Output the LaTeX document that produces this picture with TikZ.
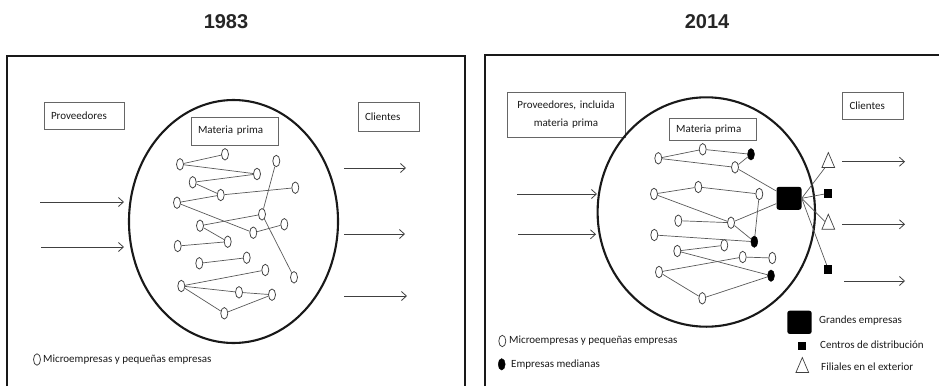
\documentclass[tikz,border=0pt]{standalone}
\usepackage{fontspec}
\setmainfont{Carlito}
\newfontfamily\titlefont{Liberation Sans}
\usetikzlibrary{shapes.geometric,arrows.meta}
\tikzset{
  frame/.style={line width=2.6pt, black!90},
  world/.style={line width=2.1pt, black!90},
  lblbox/.style={draw=black!60, line width=0.8pt, inner xsep=7pt, inner ysep=0pt, align=left, font=\fontsize{11}{13}\selectfont, text=black!90},
  sme/.style={ellipse, draw=black!75, fill=white, line width=0.75pt, minimum width=7pt, minimum height=11.5pt, inner sep=0pt},
  med/.style={ellipse, fill=black, draw=black, minimum width=7pt, minimum height=11.5pt, inner sep=0pt},
  link/.style={draw=black!65, line width=0.7pt},
  flow/.style={draw=black!75, line width=0.8pt, -{Straight Barb[length=5pt,width=9pt,line width=0.8pt]}},
  legtxt/.style={anchor=west, inner sep=0pt, font=\fontsize{11}{13}\selectfont, text=black!90},
  yeartitle/.style={font=\titlefont\bfseries\fontsize{20}{24}\selectfont, text=black!85},
  bigsq/.style={rectangle, fill=black, rounded corners=2.5pt, minimum width=25pt, minimum height=23pt, inner sep=0pt},
  smallsq/.style={rectangle, fill=black, minimum width=8pt, minimum height=8.5pt, inner sep=0pt},
  tri/.style={isosceles triangle, shape border rotate=90, isosceles triangle apex angle=46, draw=black!75, fill=white, line width=0.7pt, minimum height=15pt, inner sep=0pt},
}
\begin{document}
\begin{tikzpicture}[x=1pt,y=-1pt]
\useasboundingbox (0,0) rectangle (939,386);
% ---------------- 1983 ----------------
\node[yeartitle] (t1) at (226,22) {1983};
\draw[frame] (7,386) -- (7,56) -- (465,56) -- (465,386);
\node[lblbox, text width=66pt, minimum height=27pt] (prov1) at (84,115.5) {Proveedores};
\draw[world] (233.5,221.5) ellipse [x radius=104.5, y radius=121.5];
\node[lblbox, text width=73pt, minimum height=28pt] (mp1) at (234.5,131) {Materia prima};
\node[lblbox, text width=47pt, minimum height=29pt] (cli1) at (388.5,116.5) {Clientes};
% flows
\coordinate (ia1) at (40,202); \coordinate (ib1) at (124,202);
\coordinate (ia2) at (41,247); \coordinate (ib2) at (124,247);
\coordinate (oa1) at (344,168); \coordinate (ob1) at (406,168);
\coordinate (oa2) at (344,234); \coordinate (ob2) at (405,234);
\coordinate (oa3) at (344,296); \coordinate (ob3) at (407,296);
\draw[flow] (ia1) -- (ib1);
\draw[flow] (ia2) -- (ib2);
\draw[flow] (oa1) -- (ob1);
\draw[flow] (oa2) -- (ob2);
\draw[flow] (oa3) -- (ob3);
% network nodes
\node[sme] (n1) at (180,164.3) {};
\node[sme] (n2) at (225,154.3) {};
\node[sme] (n3) at (257,174) {};
\node[sme] (n4) at (276.3,161) {};
\node[sme] (n5) at (192.7,182.3) {};
\node[sme] (n6) at (220.7,195) {};
\node[sme] (n7) at (295.3,187.7) {};
\node[sme] (n8) at (177,202.7) {};
\node[sme] (n9) at (262,214.3) {};
\node[sme] (n10) at (200,225.7) {};
\node[sme] (n11) at (284.3,224.3) {};
\node[sme] (n12) at (253.3,232.7) {};
\node[sme] (n13) at (227.7,241.7) {};
\node[sme] (n14) at (177.7,246) {};
\node[sme] (n15) at (199.3,263.3) {};
\node[sme] (n16) at (246.7,257.7) {};
\node[sme] (n17) at (265.3,270) {};
\node[sme] (n18) at (294,277.3) {};
\node[sme] (n19) at (181.3,286) {};
\node[sme] (n20) at (239,292.3) {};
\node[sme] (n21) at (272,294.7) {};
\node[sme] (n22) at (224.3,313.3) {};
\draw[link] (n1) -- (n2);
\draw[link] (n1) -- (n3);
\draw[link] (n5) -- (n3);
\draw[link] (n5) -- (n6);
\draw[link] (n8) -- (n6);
\draw[link] (n6) -- (n7);
\draw[link] (n8) -- (n12);
\draw[link] (n4) -- (n9);
\draw[link] (n10) -- (n9);
\draw[link] (n10) -- (n13);
\draw[link] (n9) -- (n18);
\draw[link] (n12) -- (n11);
\draw[link] (n14) -- (n13);
\draw[link] (n15) -- (n16);
\draw[link] (n19) -- (n17);
\draw[link] (n19) -- (n20);
\draw[link] (n19) -- (n22);
\draw[link] (n20) -- (n21);
\draw[link] (n22) -- (n21);
% legend
\node[sme] (lg1) at (37,359.5) {};
\node[legtxt] (lg1t) at (43,360) {Microempresas y pequeñas empresas};
% ---------------- 2014 ----------------
\node[yeartitle] (t2) at (707,22) {2014};
\draw[frame] (485,386) -- (485,55) -- (945,55);
\node[lblbox, align=center, text width=104pt, minimum height=45pt, font=\fontsize{11}{18}\selectfont] (prov2) at (566,115) {Proveedores, incluida\\materia prima};
\draw[world] (706.3,212) ellipse [x radius=108.7, y radius=114.7];
\node[lblbox, text width=73pt, minimum height=22pt] (mp2) at (712.7,129.2) {Materia prima};
\node[lblbox, text width=47pt, minimum height=26.6pt] (cli2) at (873,106) {Clientes};
% flows
\coordinate (ja1) at (517,194); \coordinate (jb1) at (597,194);
\coordinate (ja2) at (518,234.3); \coordinate (jb2) at (596,234.3);
\coordinate (pa1) at (842,161.7); \coordinate (pb1) at (905,161.7);
\coordinate (pa2) at (842,224.3); \coordinate (pb2) at (905,224.3);
\coordinate (pa3) at (844,281); \coordinate (pb3) at (905,281);
\draw[flow] (ja1) -- (jb1);
\draw[flow] (ja2) -- (jb2);
\draw[flow] (pa1) -- (pb1);
\draw[flow] (pa2) -- (pb2);
\draw[flow] (pa3) -- (pb3);
% network
\node[sme] (m1) at (658.3,158.3) {};
\node[sme] (m2) at (702.7,149.3) {};
\node[med] (b1) at (751,154.3) {};
\node[sme] (m3) at (735,167.3) {};
\node[sme] (m4) at (654,194) {};
\node[sme] (m5) at (698.3,187) {};
\node[sme] (m6) at (759.3,194) {};
\node[sme] (m7) at (678.3,220.7) {};
\node[sme] (m8) at (731,222.7) {};
\node[sme] (m9) at (654.3,235) {};
\node[med] (b2) at (754.3,241.7) {};
\node[sme] (m10) at (677.3,251) {};
\node[sme] (m11) at (724.3,245.3) {};
\node[sme] (m12) at (742.7,257) {};
\node[sme] (m13) at (772.3,258) {};
\node[sme] (m14) at (659,272) {};
\node[med] (b3) at (771,275.7) {};
\node[sme] (m15) at (702.3,298.3) {};
\node[bigsq] (big) at (789,198.3) {};
\node[smallsq] (s1) at (828.3,193.3) {};
\node[smallsq] (s2) at (828.3,269.3) {};
\node[tri] (tr1) at (828.3,163.3) {};
\node[tri] (tr2) at (828.3,225) {};
\draw[link] (m1) -- (m2);
\draw[link] (m2) -- (b1);
\draw[link] (m1) -- (m3);
\draw[link] (b1) -- (m3);
\draw[link] (m3) -- (big);
\draw[link] (m4) -- (m5);
\draw[link] (m5) -- (m6);
\draw[link] (m4) -- (m8);
\draw[link] (m7) -- (m8);
\draw[link] (m8) -- (big);
\draw[link] (m6) -- (b2);
\draw[link] (m8) -- (b2);
\draw[link] (m9) -- (b2);
\draw[link] (m10) -- (m11);
\draw[link] (m10) -- (b3);
\draw[link] (m14) -- (m12);
\draw[link] (m12) -- (m13);
\draw[link] (m14) -- (m15);
\draw[link] (m15) -- (b3);
\draw[link] (big.east) -- (tr1);
\draw[link] (big.east) -- (s1);
\draw[link] (big.east) -- (tr2);
\draw[link] (big.east) -- (s2);
% legend
\node[sme] (lg2) at (502.3,341) {};
\node[legtxt] (lg2t) at (509,341) {Microempresas y pequeñas empresas};
\node[med] (lg3) at (501.7,364.3) {};
\node[legtxt] (lg3t) at (511,364.3) {Empresas medianas};
\node[bigsq, minimum width=24.4pt, minimum height=23.3pt] (lg4) at (799.5,322.3) {};
\node[legtxt] (lg4t) at (819,321) {Grandes empresas};
\node[smallsq] (lg5) at (802.3,346) {};
\node[legtxt] (lg5t) at (820,345) {Centros de distribución};
\node[tri] (lg6) at (802.3,368.3) {};
\node[legtxt] (lg6t) at (821,367) {Filiales en el exterior};
\end{tikzpicture}
\end{document}
